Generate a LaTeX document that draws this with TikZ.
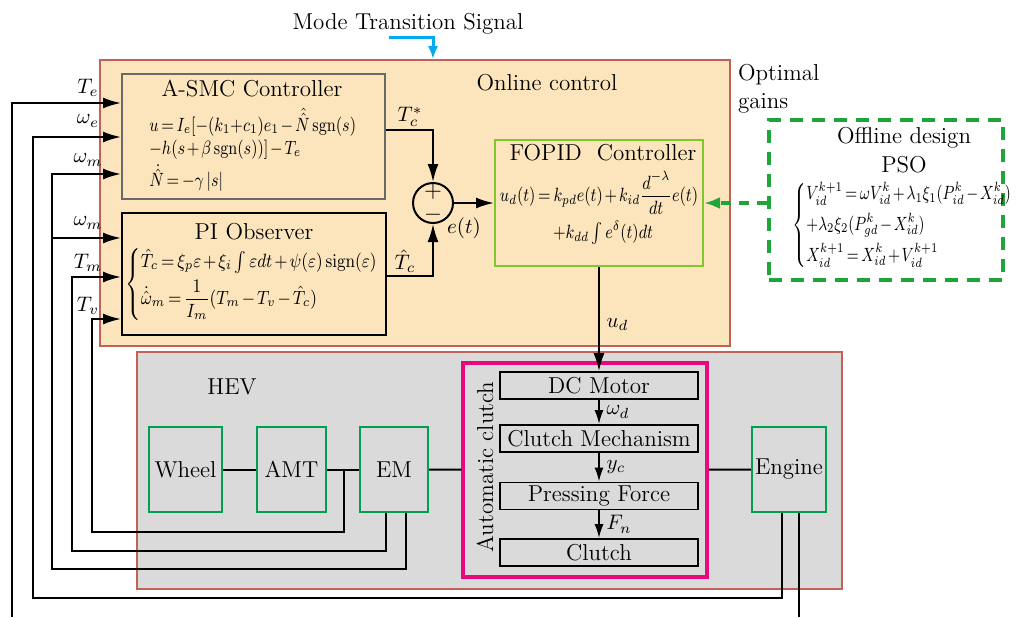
\documentclass[tikz,border=0pt]{standalone}
\usepackage{fix-cm}
\usepackage{amsmath}
\usepackage{graphicx}
\usetikzlibrary{arrows.meta}

\definecolor{onlineorange}{RGB}{252,229,188}
\definecolor{framered}{RGB}{194,98,86}
\definecolor{hevgray}{RGB}{218,218,218}
\definecolor{smcgray}{RGB}{105,105,105}
\definecolor{clutchpink}{RGB}{232,10,122}
\definecolor{plantgreen}{RGB}{0,160,80}
\definecolor{fopidgreen}{RGB}{125,200,45}
\definecolor{psogreen}{RGB}{30,165,60}
\definecolor{signalblue}{RGB}{0,172,238}

\newcommand{\eqnsize}{\fontsize{9.6}{11.5}\selectfont
    \medmuskip=2mu\relax\thickmuskip=3mu\relax}
% narrow the wide math a little
\newcommand{\narrow}[2][0.82]{\scalebox{#1}[1]{#2}}

\begin{document}
\begin{tikzpicture}[x=0.5pt,y=-0.5pt,line join=miter,
        font=\fontsize{11.5}{14}\selectfont,
        sigline/.style={line width=1pt},
        sigarrow/.style={line width=1pt,-{Latex[length=9pt,width=5.5pt]}},
        partarrow/.style={line width=1pt,-{Latex[length=7pt,width=4.5pt]}},
        siglabel/.style={font=\fontsize{10.5}{12}\selectfont},
        plantbox/.style={draw=plantgreen,line width=1.1pt,inner sep=0pt,minimum height=42.5pt},
        clutchpart/.style={draw,line width=0.8pt,inner sep=0pt,minimum width=99pt,minimum height=13.5pt},
        eqn/.style={font=\eqnsize,inner sep=0pt}]
    \useasboundingbox (0,0) rectangle (1016,617);

    % frames
    \node[draw=framered,fill=onlineorange,line width=0.8pt,inner sep=0pt,
        minimum width=315pt,minimum height=143pt] (online) at (415,203) {};
    \node[draw=framered,fill=hevgray,line width=0.8pt,inner sep=0pt,
        minimum width=352.5pt,minimum height=118.5pt] (hev) at (489.5,470.5) {};

    \node (modetext) at (408,24) {Mode Transition Signal};
    \node (onlinetext) at (547,83) {Online control};
    \node[anchor=west,align=left] (gainstext) at (731,89) {Optimal\\gains};
    \node (hevtext) at (232,387) {HEV};

    % A-SMC controller
    \node[draw=smcgray,line width=1pt,inner sep=0pt,
        minimum width=131.5pt,minimum height=62.5pt] (asmc) at (253.5,136.5) {};
    \node (asmctitle) at (252,89) {A-SMC Controller};
    \node[eqn,anchor=west] (asmceq1) at (149,122)
        {\narrow{$u=I_e[-(k_1{+}c_1)e_1-\hat{\hat{N}}\,\mathrm{sgn}(s)$}};
    \node[eqn,anchor=west] (asmceq2) at (149,150)
        {\narrow{$-h(s+\beta\,\mathrm{sgn}(s))]-T_e$}};
    \node[eqn,anchor=west] (asmceq3) at (149,178)
        {\narrow{$\dot{\hat{N}}=-\gamma\,|s|$}};

    % PI observer
    \node[draw,line width=1pt,inner sep=0pt,
        minimum width=132pt,minimum height=61pt] (pi) at (254,274) {};
    \node (pititle) at (254,232) {PI Observer};
    \node[eqn,anchor=west] (pieq) at (125,284)
        {\narrow[0.87]{$\begin{cases}
            \hat{T}_c=\xi_p\varepsilon+\xi_i\int\varepsilon dt+\psi(\varepsilon)\,\mathrm{sign}(\varepsilon)\\[2pt]
            \dot{\hat{\omega}}_m=\dfrac{1}{I_m}(T_m-T_v-\hat{T}_c)
        \end{cases}$}};

    % summing point and FOPID
    \node[draw,circle,line width=1pt,minimum size=20pt,inner sep=0pt] (sum) at (433,203) {};
    \node (plus) at (433,192) {$+$};
    \node (minus) at (433,215) {$-$};
    \node[draw=fopidgreen,line width=1pt,inner sep=0pt,
        minimum width=104pt,minimum height=63pt] (fopid) at (599,203) {};
    \node (fopidtitle) at (603,153) {FOPID\ \ Controller};
    \node[eqn] (fopideq1) at (599,193)
        {\narrow{$u_d(t)=k_{pd}e(t)+k_{id}\dfrac{d^{-\lambda}}{dt}e(t)$}};
    \node[eqn] (fopideq2) at (603,233) {\narrow{$+k_{dd}\int e^{\delta}(t)dt$}};

    % offline PSO
    \node[draw=psogreen,line width=2pt,dash pattern=on 6.5pt off 4.5pt,inner sep=0pt,
        minimum width=117pt,minimum height=80pt] (pso) at (886,200) {};
    \node (psotitle) at (904,138) {Offline design};
    \node (psoname) at (904,165) {PSO};
    \node[eqn,anchor=west] (psoeq) at (792,225)
        {\narrow[0.78]{$\begin{cases}
            V_{id}^{k+1}=\omega V_{id}^{k}+\lambda_1\xi_1(P_{id}^{k}-X_{id}^{k})\\[1.5pt]
            +\lambda_2\xi_2(P_{gd}^{k}-X_{id}^{k})\\[1.5pt]
            X_{id}^{k+1}=X_{id}^{k}+V_{id}^{k+1}
        \end{cases}$}};

    % HEV plant
    \node[plantbox,minimum width=36.5pt] (wheel) at (185.5,469.5) {Wheel};
    \node[plantbox,minimum width=34.5pt] (amt) at (291.5,469.5) {AMT};
    \node[plantbox,minimum width=34pt] (em) at (394,469.5) {EM};
    \node[draw=clutchpink,line width=1.6pt,inner sep=0pt,
        minimum width=122pt,minimum height=107pt] (autoclutch) at (585,470) {};
    \node[rotate=90] (autotext) at (485,467) {Automatic clutch};
    \node[clutchpart] (dcmotor) at (599,385.5) {DC Motor};
    \node[clutchpart] (mechanism) at (599,438.5) {Clutch Mechanism};
    \node[clutchpart] (pressing) at (599,496) {Pressing Force};
    \node[clutchpart] (clutch) at (599,552.5) {Clutch};
    \node[plantbox,minimum width=37pt] (engine) at (789,469.5) {Engine};

    \draw[sigline] (wheel) -- (amt);
    \draw[sigline] (amt) -- (em);
    \draw[sigline] (em) -- (autoclutch);
    \draw[sigline] (autoclutch) -- (engine);
    \draw[partarrow] (dcmotor) -- node[siglabel,right] (wdlabel) {$\omega_d$} (mechanism);
    \draw[partarrow] (mechanism) -- node[siglabel,right] (yclabel) {$y_c$} (pressing);
    \draw[partarrow] (pressing) -- node[siglabel,right] (fnlabel) {$F_n$} (clutch);

    % controller signals
    \coordinate (modestart) at (389,37);
    \draw[signalblue,line width=1.5pt,-{Latex[length=6.5pt,width=5pt]}]
        (modestart) -| (sum |- online.north);
    \draw[sigarrow] (asmc.east |- 0,130) -| (sum.north);
    \draw[sigarrow] (pi.east |- 0,276) -| (sum.south);
    \draw[sigarrow] (sum) -- (fopid);
    \draw[sigarrow] (fopid) -- node[siglabel,right,pos=0.55] (udlabel) {$u_d$} (dcmotor);
    \draw[psogreen,line width=2pt,dash pattern=on 5pt off 4pt,-{Latex[length=8pt,width=6pt]}]
        (pso.west |- fopid) -- (fopid);
    \node[siglabel] (tclabel) at (410,117) {$T_c^{*}$};
    \node[siglabel] (tchatlabel) at (405,261) {$\hat{T}_c$};
    \node[siglabel] (etlabel) at (464,228) {$e(t)$};

    % feedback signals
    \coordinate (tefoot) at (12,617);
    \coordinate (engfoot) at (799,617);
    \coordinate (tvtap) at (344,470);
    \coordinate (wmtap) at (52,238);
    \draw[sigarrow] (tefoot) |- (asmc.west |- 0,103);
    \draw[sigarrow] (engine.south -| 782,0) |- (33,598) |- (asmc.west |- 0,137);
    \draw[sigarrow] (em.south -| 406,0) |- (52,569) |- (asmc.west |- 0,174);
    \draw[sigarrow] (wmtap) -- (pi.west |- wmtap);
    \draw[sigarrow] (em.south -| 386,0) |- (72,551) |- (pi.west |- 0,277);
    \draw[sigarrow] (tvtap) |- (92,532) |- (pi.west |- 0,319);
    \draw[sigline] (engine.south -| 799,0) -- (engfoot);

    \foreach \nm/\yy/\lab in {te/88/T_e, we/121/\omega_e, wm/160/\omega_m,
            wmpi/223/\omega_m, tm/263/T_m, tv/306/T_v}
        \node[siglabel] (lab\nm) at (88,\yy) {$\lab$};
\end{tikzpicture}
\end{document}
